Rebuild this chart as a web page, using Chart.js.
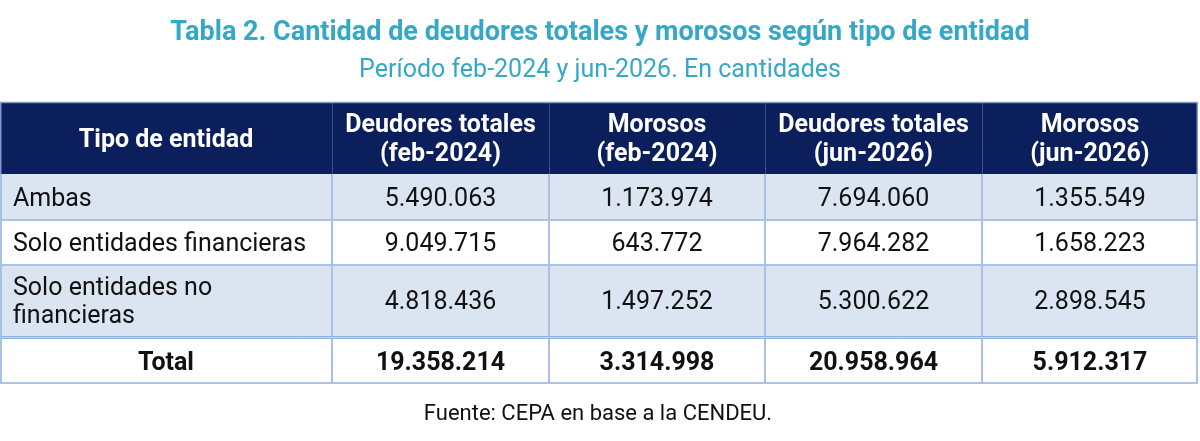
<!DOCTYPE html>
<html><head><meta charset="utf-8">
<script src="https://cdn.jsdelivr.net/npm/chart.js@4.4.1/dist/chart.umd.min.js"></script>
<style>html,body{margin:0;padding:0;background:#fff}canvas{display:block}</style>
</head><body>
<canvas id="c" width="1200" height="441"></canvas>
<script>
// ---- data ----
const titleText = 'Tabla 2. Cantidad de deudores totales y morosos según tipo de entidad';
const subtitleText = 'Período feb-2024 y jun-2026. En cantidades';
const sourceText = 'Fuente: CEPA en base a la CENDEU.';
const headerLabels = [['Tipo de entidad'], ['Deudores totales', '(feb-2024)'], ['Morosos', '(feb-2024)'], ['Deudores totales', '(jun-2026)'], ['Morosos', '(jun-2026)']];
const categories = ['Ambas', 'Solo entidades financieras', 'Solo entidades no financieras'];
const deudoresFeb2024 = [5490063, 9049715, 4818436];
const morososFeb2024 = [1173974, 643772, 1497252];
const deudoresJun2026 = [7694060, 7964282, 5300622];
const morososJun2026 = [1355549, 1658223, 2898545];
const totalLabel = 'Total';
const totals = [19358214, 3314998, 20958964, 5912317];

// ---- layout (in scale units) ----
const colEdges = [0, 332, 549, 765, 982, 1198];
const rowEdges = [0, 72, 118, 163, 234];
const totalEdges = [237, 282];

const FONT = 'Roboto, "Noto Sans", sans-serif';
const fmt = n => String(n).replace(/\B(?=(\d{3})+(?!\d))/g, '.');

function wrap(ctx, text, maxW) {
  const words = text.split(' ');
  const lines = []; let cur = '';
  for (const w of words) {
    const t = cur ? cur + ' ' + w : w;
    if (ctx.measureText(t).width > maxW && cur) { lines.push(cur); cur = w; } else cur = t;
  }
  if (cur) lines.push(cur);
  return lines;
}

const tablePlugin = {
  id: 'tablePlugin',
  afterDraw(chart) {
    const { ctx, scales: { x, y } } = chart;
    const X = v => x.getPixelForValue(v);
    const Y = v => y.getPixelForValue(v);
    const W = X(1198) - X(0);
    ctx.save();
    // backgrounds
    ctx.fillStyle = '#0b1f5d';
    ctx.fillRect(X(0), Y(0), W, Y(72) - Y(0));
    const bands = ['#dbe5f1', '#ffffff', '#dbe5f1'];
    for (let i = 0; i < 3; i++) {
      ctx.fillStyle = bands[i];
      ctx.fillRect(X(0), Y(rowEdges[i + 1]), W, Y(rowEdges[i + 2] ?? 234) - Y(rowEdges[i + 1]));
    }
    ctx.fillStyle = '#ffffff';
    ctx.fillRect(X(0), Y(totalEdges[0]), W, Y(totalEdges[1]) - Y(totalEdges[0]));
    // double line
    ctx.fillStyle = '#c6d6ee';
    ctx.fillRect(X(0), Y(234), W, Y(237) - Y(234));
    ctx.strokeStyle = '#93b0dd'; ctx.lineWidth = 1;
    [234.5, 236.5].forEach(v => { ctx.beginPath(); ctx.moveTo(X(0), Y(v)); ctx.lineTo(X(1198), Y(v)); ctx.stroke(); });
    // horizontal lines
    ctx.strokeStyle = '#adc3e6'; ctx.lineWidth = 2;
    [118, 163].forEach(v => { ctx.beginPath(); ctx.moveTo(X(0), Y(v)); ctx.lineTo(X(1198), Y(v)); ctx.stroke(); });
    ctx.beginPath(); ctx.moveTo(X(0), Y(281)); ctx.lineTo(X(1198), Y(281)); ctx.stroke();
    // vertical lines body
    ctx.strokeStyle = '#a9c1e6'; ctx.lineWidth = 2;
    colEdges.slice(1, -1).forEach(v => { ctx.beginPath(); ctx.moveTo(X(v), Y(72)); ctx.lineTo(X(v), Y(234)); ctx.moveTo(X(v), Y(237)); ctx.lineTo(X(v), Y(282)); ctx.stroke(); });
    // outer
    [1, 1197].forEach(v => { ctx.beginPath(); ctx.moveTo(X(v), Y(72)); ctx.lineTo(X(v), Y(282)); ctx.stroke(); });
    // header vertical lines
    ctx.strokeStyle = '#33508f'; ctx.lineWidth = 1;
    colEdges.slice(1, -1).forEach(v => { ctx.beginPath(); ctx.moveTo(X(v) + 0.5, Y(0)); ctx.lineTo(X(v) + 0.5, Y(72)); ctx.stroke(); });
    ctx.strokeStyle = '#7f9ac8'; ctx.lineWidth = 1.5;
    ctx.beginPath(); ctx.moveTo(X(0), Y(0.5)); ctx.lineTo(X(1198), Y(0.5)); ctx.stroke();
    ctx.beginPath(); ctx.moveTo(X(0.75), Y(0)); ctx.lineTo(X(0.75), Y(72)); ctx.moveTo(X(1197.25), Y(0)); ctx.lineTo(X(1197.25), Y(72)); ctx.stroke();

    // header text
    ctx.textAlign = 'center'; ctx.textBaseline = 'alphabetic';
    ctx.fillStyle = '#ffffff'; ctx.font = 'bold 25px ' + FONT;
    const LH = 29, CAP = 8.9;
    headerLabels.forEach((lines, c) => {
      const cx = (X(colEdges[c]) + X(colEdges[c + 1])) / 2;
      const cy = (Y(0) + Y(72)) / 2;
      lines.forEach((t, i) => ctx.fillText(t, cx, cy + (i - (lines.length - 1) / 2) * LH + CAP));
    });
    // body
    const cols = [deudoresFeb2024, morososFeb2024, deudoresJun2026, morososJun2026];
    ctx.fillStyle = '#111111'; ctx.font = '25px ' + FONT;
    categories.forEach((cat, r) => {
      const cy = (Y(rowEdges[r + 1]) + Y(rowEdges[r + 2] ?? 234)) / 2;
      ctx.textAlign = 'left';
      const lines = wrap(ctx, cat, X(colEdges[1]) - X(colEdges[0]) - 20);
      lines.forEach((t, i) => ctx.fillText(t, X(colEdges[0]) + 13, cy + (i - (lines.length - 1) / 2) * 28 + CAP));
      ctx.textAlign = 'center';
      cols.forEach((arr, c) => {
        const cx = (X(colEdges[c + 1]) + X(colEdges[c + 2])) / 2;
        ctx.fillText(fmt(arr[r]), cx, cy + CAP);
      });
    });
    // total
    ctx.font = 'bold 25px ' + FONT; ctx.textAlign = 'center';
    const ty = (Y(totalEdges[0]) + Y(totalEdges[1])) / 2;
    ctx.fillText(totalLabel, (X(colEdges[0]) + X(colEdges[1])) / 2, ty + CAP);
    totals.forEach((v, c) => ctx.fillText(fmt(v), (X(colEdges[c + 1]) + X(colEdges[c + 2])) / 2, ty + CAP));

    // title, subtitle, source
    ctx.textAlign = 'center';
    ctx.fillStyle = '#35a8c7';
    ctx.font = 'bold 27px ' + FONT; ctx.fillText(titleText, 600, 40);
    ctx.font = '25px ' + FONT; ctx.fillText(subtitleText, 600, 77);
    ctx.fillStyle = '#111111';
    ctx.font = '22px ' + FONT; ctx.fillText(sourceText, 598, 420);
    ctx.restore();
  }
};

function build() {
  new Chart(document.getElementById('c'), {
    type: 'bar',
    data: { labels: [], datasets: [] },
    options: {
      responsive: false, animation: false, devicePixelRatio: 1,
      layout: { padding: { top: 102, left: 0, right: 2, bottom: 57 } },
      scales: {
        x: { type: 'linear', display: false, offset: false, min: 0, max: 1198 },
        y: { type: 'linear', display: false, offset: false, min: 0, max: 282, reverse: true }
      },
      plugins: { legend: { display: false }, tooltip: { enabled: false }, title: { display: false } }
    },
    plugins: [tablePlugin]
  });
}
if (document.fonts && document.fonts.load) {
  Promise.all([document.fonts.load('25px Roboto'), document.fonts.load('bold 25px Roboto')]).then(build, build);
} else build();
</script>
</body></html>
